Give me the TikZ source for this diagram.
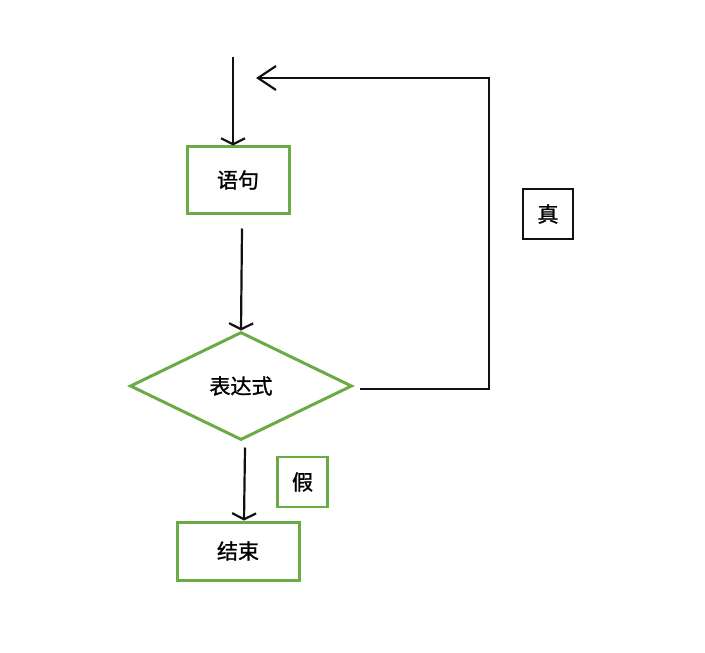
\documentclass[tikz,border=0pt]{standalone}
\usepackage{fontspec}
\newfontfamily\cjk[FakeBold=1.2]{Noto Sans CJK SC}
\usetikzlibrary{arrows.meta,positioning,shapes.geometric}
\definecolor{boxgreen}{HTML}{6AAB46}
\definecolor{ink}{HTML}{111111}

\begin{document}
\begin{tikzpicture}[
  x=0.5pt, y=-0.5pt,
  every node/.style={font=\cjk\fontsize{10.5}{12}\selectfont},
  stmt/.style={draw=boxgreen, line width=1.5pt, fill=white, inner sep=0pt},
  cond/.style={diamond, draw=boxgreen, line width=1.5pt, fill=white, inner sep=0pt,
    minimum width=111pt, minimum height=54pt},
  tag/.style={draw=#1, line width=1.4pt, minimum width=25pt, minimum height=25pt, inner sep=0pt},
  flow/.style={draw=ink, line width=1.1pt, -{Straight Barb[length=3pt,width=12pt]}}
]
  \useasboundingbox (0,0) rectangle (705,652);

  % loop body and test
  \node[stmt, minimum width=51pt, minimum height=33pt] (yuju) at (238,180) {语句};
  \node[cond] (expr) at (241,386) {表达式};
  \node[stmt, minimum width=61pt, minimum height=29pt] (jieshu) at (238,551) {结束};

  % branch labels
  \node[tag=ink] (zhen) at (548,214) {真};
  \node[tag=boxgreen] (jia) at (302.5,482) {假};

  % free ends
  \coordinate (entry) at (233,57);
  \coordinate (corner) at (489,78);
  \coordinate (back) at (256,78);

  % connectors
  \draw[flow] (entry) -- (entry |- yuju.north);
  \draw[flow] ([xshift=2pt,yshift=-7pt]yuju.south) -- (expr.north);
  \draw[flow] ([xshift=2pt,yshift=-3pt]expr.south) -- ([xshift=3pt]jieshu.north);
  \draw[draw=ink, line width=1.1pt, -{Straight Barb[length=9pt,width=12pt]}]
    ([xshift=3pt,yshift=-1.5pt]expr.east) -| (corner) -- (back);
\end{tikzpicture}
\end{document}
